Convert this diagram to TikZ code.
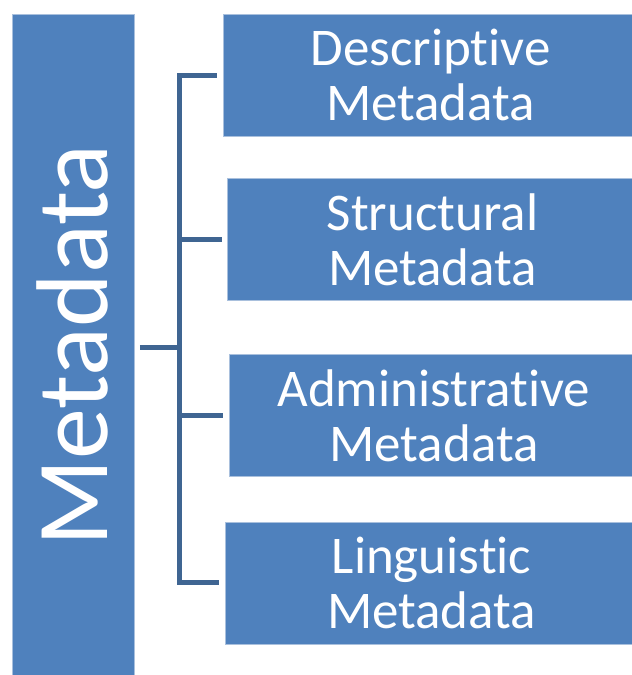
\documentclass[tikz,border=0pt]{standalone}
\usepackage{fontspec}
\setmainfont[Ligatures=NoCommon]{Carlito}
\definecolor{boxfill}{HTML}{4F81BD}
\definecolor{boxline}{HTML}{A9C0DD}
\definecolor{connline}{HTML}{3F6592}
\begin{document}
\begin{tikzpicture}[x=1pt,y=-1pt,
  box/.style={draw=boxline, line width=0.8pt, fill=boxfill, text=white, inner sep=0pt, anchor=north west, align=center},
  subbox/.style={box, font=\fontsize{53}{55}\selectfont},
  conn/.style={draw=connline, line width=5pt, line join=miter}]
\useasboundingbox (0,0) rectangle (632,675);
\node[box, minimum width=122pt, minimum height=662pt, font=\fontsize{102}{102}\selectfont] (L) at (11.5,14) {\rotatebox{90}{Metadata}};
\node[subbox, minimum width=415pt, minimum height=122pt] (B1) at (222.7,14) {Descriptive\\Metadata};
\node[subbox, minimum width=411pt, minimum height=122pt] (B2) at (226.7,178.3) {Structural\\Metadata};
\node[subbox, minimum width=409pt, minimum height=122pt] (B3) at (229,354.3) {Administrative\\Metadata};
\node[subbox, minimum width=413pt, minimum height=122pt] (B4) at (224.7,521.5) {Linguistic\\Metadata};
\coordinate (J) at (179,347.5);
\draw[conn, shorten <=5.5pt] (L.east |- J) -- (J);
\draw[conn, shorten >=5.5pt] (J) |- (B1.west);
\draw[conn, shorten >=5pt] (J) |- (B2.west);
\draw[conn, shorten >=6pt] (J) |- (B3.west);
\draw[conn, shorten >=5.5pt] (J) |- (B4.west);
\end{tikzpicture}
\end{document}
